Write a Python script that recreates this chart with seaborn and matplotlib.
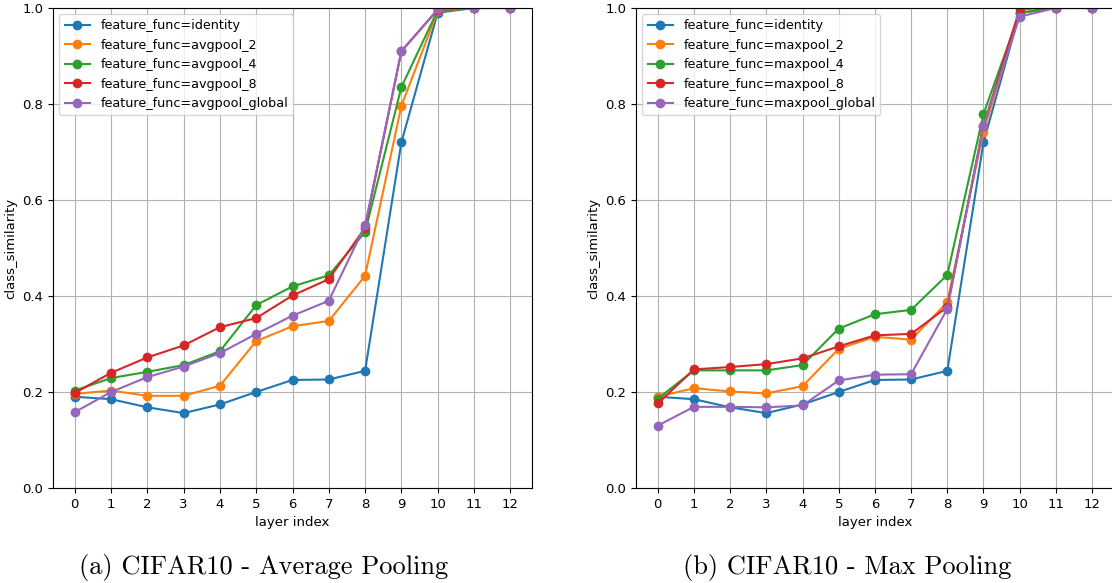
import numpy as np
import pandas as pd
import matplotlib
matplotlib.use("Agg")
import matplotlib.pyplot as plt
import seaborn as sns

layers = list(range(13))

avg_labels = ["identity", "avgpool_2", "avgpool_4", "avgpool_8", "avgpool_global"]
max_labels = ["identity", "maxpool_2", "maxpool_4", "maxpool_8", "maxpool_global"]

identity = [0.190, 0.185, 0.168, 0.156, 0.174, 0.200, 0.225, 0.226, 0.244, 0.720, 0.990, 1.000, 1.000]

avgpool_2 = [0.196, 0.203, 0.192, 0.192, 0.213, 0.306, 0.337, 0.348, 0.442, 0.796, 0.993, 1.000, 1.000]
avgpool_4 = [0.203, 0.229, 0.242, 0.256, 0.285, 0.381, 0.420, 0.443, 0.533, 0.835, 0.995, 1.000, 1.000]
avgpool_8 = [0.198, 0.240, 0.272, 0.297, 0.335, 0.354, 0.401, 0.435, 0.542, 0.910, 0.996, 1.000, 1.000]
avgpool_global = [0.158, 0.200, 0.231, 0.253, 0.281, 0.321, 0.359, 0.390, 0.547, 0.910, 0.997, 1.000, 1.000]

maxpool_2 = [0.190, 0.208, 0.201, 0.197, 0.212, 0.290, 0.315, 0.309, 0.387, 0.742, 0.990, 1.000, 1.000]
maxpool_4 = [0.186, 0.245, 0.245, 0.245, 0.256, 0.332, 0.362, 0.371, 0.444, 0.779, 0.990, 1.000, 1.000]
maxpool_8 = [0.176, 0.247, 0.252, 0.258, 0.270, 0.295, 0.318, 0.321, 0.377, 0.755, 0.998, 1.000, 1.000]
maxpool_global = [0.130, 0.169, 0.169, 0.168, 0.172, 0.224, 0.236, 0.237, 0.373, 0.755, 0.982, 1.000, 1.000]

avg_series = [identity, avgpool_2, avgpool_4, avgpool_8, avgpool_global]
max_series = [identity, maxpool_2, maxpool_4, maxpool_8, maxpool_global]

captions = ["(a) CIFAR10 - Average Pooling", "(b) CIFAR10 - Max Pooling"]


def to_frame(labels, series):
    rows = []
    for name, vals in zip(labels, series):
        for layer, v in zip(layers, vals):
            rows.append({"layer index": layer,
                         "class_similarity": v,
                         "feature_func": f"feature_func={name}"})
    return pd.DataFrame(rows)


plt.rcParams["font.size"] = 9
fig = plt.figure(figsize=(11.12, 5.83), dpi=100)
ax_a = fig.add_axes([0.0477, 0.163, 0.4307, 0.8233])
ax_b = fig.add_axes([0.5720, 0.163, 0.4296, 0.8233])

palette = sns.color_palette("tab10", 5)

for ax, labels, series in [(ax_a, avg_labels, avg_series), (ax_b, max_labels, max_series)]:
    df = to_frame(labels, series)
    sns.lineplot(data=df, x="layer index", y="class_similarity", hue="feature_func",
                 palette=palette, marker="o", markersize=7, markeredgewidth=0,
                 linewidth=1.5, ax=ax)
    ax.set_ylim(0, 1.0)
    ax.set_xticks(layers)
    ax.set_yticks(np.arange(0, 1.01, 0.2))
    ax.grid(True, color="#b0b0b0", linewidth=0.8)
    ax.set_axisbelow(True)
    ax.tick_params(labelsize=9.5)
    ax.set_xlabel("layer index", fontsize=9.5)
    ax.set_ylabel("class_similarity", fontsize=9.5)
    handles, lbls = ax.get_legend_handles_labels()
    ax.legend(handles, lbls, loc="upper left", fontsize=9.2, title=None,
              framealpha=0.8)

fig.text(0.2374, 0.016, captions[0], ha="center", va="baseline",
         fontsize=19, fontfamily="cmr10")
fig.text(0.7617, 0.016, captions[1], ha="center", va="baseline",
         fontsize=19, fontfamily="cmr10")

fig.savefig("out.png", dpi=100)
